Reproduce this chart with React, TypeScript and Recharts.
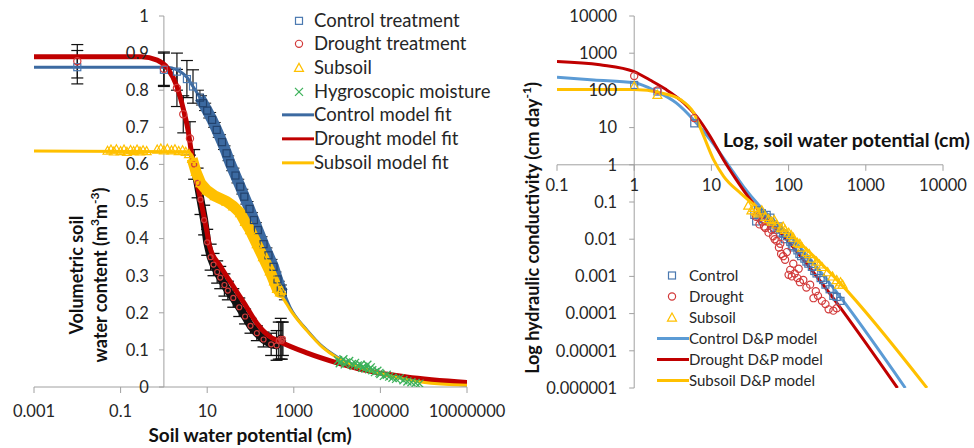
import React from 'react';
import { ComposedChart, Line, Scatter, XAxis, YAxis, ReferenceLine, ReferenceDot, ErrorBar } from 'recharts';

const FONT = 'Lato, "Open Sans", "DejaVu Sans", sans-serif';

// ---------- LEFT PANEL DATA (water retention) ----------
const LEFT_X_TICKS = [0.001, 0.1, 10, 1000, 100000, 10000000];
const LEFT_X_LABELS = ['0.001', '0.1', '10', '1000', '100000', '10000000'];
const LEFT_Y_TICKS = [0, 0.1, 0.2, 0.3, 0.4, 0.5, 0.6, 0.7, 0.8, 0.9, 1];
const LEFT_Y_LABELS = ['0', '0.1', '0.2', '0.3', '0.4', '0.5', '0.6', '0.7', '0.8', '0.9', '1'];

const CONTROL_PTS = [[0.01, 0.862, 0.045], [1, 0.855, 0.045], [2, 0.85, 0.05], [3.4, 0.83, 0.05], [4.7, 0.81, 0.045]];
const CONTROL_BAND = [[6.8, 0.78, 0.02], [8, 0.765, 0.02], [10, 0.745, 0.02], [13, 0.72, 0.02], [16.6, 0.693, 0.02], [22, 0.66, 0.02], [28, 0.63, 0.02], [34, 0.603, 0.02], [45, 0.57, 0.02], [58, 0.54, 0.02], [72, 0.513, 0.02], [95, 0.48, 0.02], [120, 0.45, 0.02], [148, 0.423, 0.02], [200, 0.385, 0.02], [260, 0.355, 0.02], [340, 0.324, 0.02], [420, 0.29, 0.02], [500, 0.265, 0.02], [560, 0.255, 0.02]];
const DROUGHT_PTS = [[0.01, 0.878, 0.045], [1, 0.858, 0.045], [2, 0.806, 0.05], [2.8, 0.735, 0.05], [4, 0.67, 0.045]];
const DROUGHT_BAND = [[5, 0.6, 0.04], [6, 0.55, 0.04], [7, 0.505, 0.04], [8.5, 0.45, 0.04], [10, 0.39, 0.035], [12, 0.35, 0.035], [14, 0.33, 0.03], [17, 0.31, 0.03], [20, 0.295, 0.03], [25, 0.275, 0.03], [30, 0.26, 0.025], [40, 0.24, 0.025], [55, 0.215, 0.025], [75, 0.19, 0.02], [100, 0.165, 0.02], [140, 0.145, 0.02], [200, 0.128, 0.02], [300, 0.115, 0.03], [400, 0.112, 0.04], [450, 0.125, 0.05], [500, 0.13, 0.055], [530, 0.125, 0.05], [560, 0.13, 0.045]];
const SUBSOIL_PTS = [[0.05, 0.637], [0.06, 0.64], [0.07, 0.635], [0.08, 0.641], [0.1, 0.636], [0.12, 0.64], [0.14, 0.634], [0.17, 0.639], [0.2, 0.636], [0.24, 0.64], [0.28, 0.635], [0.33, 0.638], [0.4, 0.636], [0.7, 0.64], [0.85, 0.643], [1, 0.638], [1.2, 0.642], [1.5, 0.638], [1.8, 0.641], [2.2, 0.636], [2.7, 0.638], [3.2, 0.634], [3.8, 0.628]];
const SUBSOIL_BAND = [[4.5, 0.615], [5.5, 0.58], [7, 0.55], [9.8, 0.53], [15, 0.515], [28, 0.5], [40, 0.487], [58, 0.469], [75, 0.445], [98, 0.423], [140, 0.385], [195, 0.35], [280, 0.312], [350, 0.285], [410, 0.265], [480, 0.255], [520, 0.26]];
const HYGRO_PTS = [[10500, 0.072], [11500, 0.064], [12000, 0.068], [14000, 0.075], [15000, 0.061], [16000, 0.066], [19000, 0.07], [22000, 0.062], [24000, 0.057], [26000, 0.065], [30000, 0.058], [35000, 0.06], [38000, 0.052], [40000, 0.055], [45000, 0.05], [50000, 0.06], [55000, 0.048], [60000, 0.053], [65000, 0.045], [75000, 0.04], [85000, 0.044], [95000, 0.038], [100000, 0.035], [120000, 0.03], [140000, 0.033], [160000, 0.028], [190000, 0.025], [230000, 0.022], [280000, 0.024], [340000, 0.018], [420000, 0.015], [520000, 0.013], [650000, 0.011], [800000, 0.009]];

const CONTROL_FIT = [[0.001, 0.862], [1.2, 0.862], [2, 0.855], [3.4, 0.835], [4.7, 0.81], [6.8, 0.78], [10, 0.745], [16.6, 0.693], [34, 0.603], [72, 0.513], [148, 0.423], [340, 0.324], [560, 0.26], [810, 0.216], [2000, 0.154], [4700, 0.108], [10000, 0.081], [40000, 0.051], [166000, 0.032], [955000, 0.016], [10000000, 0.005]];
const DROUGHT_FIT = [[0.001, 0.89], [0.3, 0.89], [0.7, 0.881], [1.2, 0.86], [2, 0.81], [2.8, 0.75], [3.6, 0.693], [4.7, 0.603], [6.8, 0.513], [9.7, 0.423], [11.6, 0.375], [20, 0.326], [40, 0.271], [80, 0.217], [140, 0.172], [250, 0.14], [480, 0.122], [2000, 0.092], [10000, 0.065], [40000, 0.046], [400000, 0.027], [10000000, 0.012]];
const SUBSOIL_FIT = [[0.001, 0.636], [3.5, 0.634], [4.5, 0.62], [5.8, 0.57], [9.8, 0.531], [28, 0.5], [58, 0.469], [98, 0.423], [195, 0.35], [280, 0.312], [410, 0.262], [600, 0.235], [810, 0.21], [2000, 0.152], [4700, 0.106], [10000, 0.079], [40000, 0.05], [166000, 0.03], [955000, 0.013], [10000000, 0.005]];

// ---------- RIGHT PANEL DATA (hydraulic conductivity) ----------
const RIGHT_X_TICKS = [0.1, 1, 10, 100, 1000, 10000];
const RIGHT_X_LABELS = ['0.1', '1', '10', '100', '1000', '10000'];
const RIGHT_Y_TICKS = [10000, 1000, 100, 10, 1, 0.1, 0.01, 0.001, 0.0001, 0.00001, 0.000001];
const RIGHT_Y_LABELS = ['10000', '1000', '100', '10', '1', '0.1', '0.01', '0.001', '0.0001', '0.00001', '0.000001'];

const K_CONTROL_PTS = [[1, 140], [2, 93], [6, 13], [36, 0.045], [38, 0.03], [40, 0.06], [42, 0.04], [45, 0.05], [48, 0.035], [52, 0.045], [55, 0.03], [58, 0.038], [60, 0.025], [65, 0.02], [70, 0.018], [74, 0.022], [78, 0.015], [85, 0.014], [90, 0.01], [95, 0.012], [105, 0.0085], [110, 0.0065], [115, 0.006], [130, 0.005], [138, 0.004], [145, 0.0035], [160, 0.003], [170, 0.0025], [180, 0.0022], [200, 0.0018], [215, 0.0014], [230, 0.0012], [260, 0.0009], [280, 0.0008], [300, 0.0006], [340, 0.00045], [380, 0.0003], [420, 0.00028], [470, 0.00022]];
const K_DROUGHT_PTS = [[1, 245], [2, 100], [6, 18], [38, 0.04], [42, 0.025], [45, 0.03], [48, 0.022], [50, 0.02], [55, 0.015], [60, 0.018], [63, 0.012], [66, 0.01], [70, 0.009], [75, 0.006], [78, 0.0075], [80, 0.004], [85, 0.0035], [90, 0.0028], [95, 0.0045], [100, 0.0011], [105, 0.0015], [110, 0.001], [115, 0.0022], [120, 0.0012], [130, 0.0009], [135, 0.0016], [140, 0.0007], [155, 0.0008], [170, 0.0005], [190, 0.0006], [210, 0.00026], [225, 0.0004], [240, 0.0003], [270, 0.00022], [300, 0.00018], [330, 0.00013], [380, 0.00012], [420, 0.00014]];
const K_SUBSOIL_PTS = [[1, 130], [2, 76], [30, 0.08], [33, 0.06], [36, 0.07], [38, 0.055], [40, 0.05], [45, 0.06], [50, 0.04], [55, 0.035], [60, 0.03], [65, 0.033], [70, 0.025], [80, 0.02], [85, 0.022], [90, 0.018], [100, 0.015], [108, 0.013], [115, 0.011], [130, 0.008], [140, 0.0075], [150, 0.006], [170, 0.0045], [185, 0.004], [200, 0.003], [230, 0.0025], [250, 0.0021], [270, 0.0018], [320, 0.0013], [370, 0.001], [420, 0.0008], [450, 0.0006], [470, 0.0007], [500, 0.0006]];

const K_CONTROL_FIT = [[0.1, 225], [0.3, 190], [1, 160], [1.95, 93], [3.5, 46], [5.9, 16], [9.7, 4.7], [16, 1.1], [26, 0.26], [43, 0.074], [95, 0.0146], [3250, 0.000001]];
const K_DROUGHT_FIT = [[0.1, 600], [0.36, 490], [1, 320], [1.6, 190], [2.6, 105], [4.4, 46], [6.5, 19.5], [9.7, 5.7], [14.4, 1.35], [21, 0.4], [32, 0.115], [95, 0.0096], [2570, 0.000001]];
const K_SUBSOIL_FIT = [[0.1, 105], [1, 105], [2.2, 86], [4, 56], [5.9, 25], [8, 5.7], [10.7, 1.35], [14.4, 0.49], [24, 0.17], [43, 0.061], [140, 0.0079], [465, 0.00066], [6200, 0.000001]];

const LEFT_LEGEND = ['Control treatment', 'Drought treatment', 'Subsoil', 'Hygroscopic moisture', 'Control model fit', 'Drought model fit', 'Subsoil model fit'];
const RIGHT_LEGEND = ['Control', 'Drought', 'Subsoil', 'Control D&P model', 'Drought D&P model', 'Subsoil D&P model'];

// ---------- styles ----------
const AXIS = '#a0a0a0';
const TEXT = '#262626';
const C_BLUE = '#3c6aa1';
const C_BLUE_MK = '#4a78b0';
const C_LIGHT = '#5b9bd5';
const RED = '#c00000';
const RED_MK = '#d23a3a';
const YEL = '#ffc000';
const GREEN = '#3cb15a';

const toPts = (arr: number[][]) => arr.map((p) => ({ x: p[0], y: p[1], err: p[2] }));

const mkSquare = (color: string, s = 7) => (props: any) => {
  const { cx, cy } = props;
  if (cx == null || cy == null) return <g key={props.key} />;
  return <rect key={props.key} x={cx - s / 2} y={cy - s / 2} width={s} height={s} fill="none" stroke={color} strokeWidth={1.2} />;
};
const mkCircle = (color: string, r = 3.6) => (props: any) => {
  const { cx, cy } = props;
  if (cx == null || cy == null) return <g key={props.key} />;
  return <circle key={props.key} cx={cx} cy={cy} r={r} fill="none" stroke={color} strokeWidth={1.2} />;
};
const mkTriangle = (color: string, s = 4.5) => (props: any) => {
  const { cx, cy } = props;
  if (cx == null || cy == null) return <g key={props.key} />;
  return <path key={props.key} d={`M${cx},${cy - s}L${cx + s},${cy + s * 0.8}L${cx - s},${cy + s * 0.8}Z`} fill="none" stroke={color} strokeWidth={1.2} />;
};
const mkX = (color: string, s = 4) => (props: any) => {
  const { cx, cy } = props;
  if (cx == null || cy == null) return <g key={props.key} />;
  return (
    <g key={props.key} stroke={color} strokeWidth={1.3}>
      <line x1={cx - s} y1={cy - s} x2={cx + s} y2={cy + s} />
      <line x1={cx - s} y1={cy + s} x2={cx + s} y2={cy - s} />
    </g>
  );
};

const tickLabelStyle = { fill: TEXT, fontSize: 16.5, fontFamily: FONT };

function LeftChart() {
  return (
    <ComposedChart width={520} height={448} margin={{ top: 16, right: 53, bottom: 0, left: 34 }}>
      <XAxis
        dataKey="x"
        type="number"
        scale="log"
        domain={[0.001, 10000000]}
        allowDataOverflow
        ticks={LEFT_X_TICKS}
        tickFormatter={(v: number) => LEFT_X_LABELS[LEFT_X_TICKS.indexOf(v)] ?? String(v)}
        height={61}
        stroke={AXIS}
        tickSize={6}
        tickMargin={12}
        tick={tickLabelStyle}
        interval={0}
      />
      <YAxis dataKey="y" type="number" domain={[0, 1]} hide allowDataOverflow />
      <ReferenceLine x={1} stroke={AXIS} strokeWidth={1} />
      {LEFT_Y_TICKS.map((v) => (
        <ReferenceLine key={'lt' + v} segment={[{ x: 0.77, y: v }, { x: 1, y: v }]} stroke={AXIS} />
      ))}
      {LEFT_Y_TICKS.map((v, i) => (
        <ReferenceDot key={'ll' + v} x={1} y={v} r={0} fill="none" stroke="none"
          label={{ value: LEFT_Y_LABELS[i], position: 'left', offset: 15, fill: TEXT, fontSize: 16.5, fontFamily: FONT }} />
      ))}
      <Scatter data={toPts(HYGRO_PTS)} dataKey="y" shape={mkX(GREEN)} isAnimationActive={false} />
      <Scatter data={toPts(SUBSOIL_PTS)} dataKey="y" shape={mkTriangle(YEL)} isAnimationActive={false} />
      <Scatter data={toPts(CONTROL_PTS)} dataKey="y" shape={mkSquare(C_BLUE_MK)} isAnimationActive={false}>
        <ErrorBar dataKey="err" direction="y" width={6} stroke="#111" strokeWidth={1.2} />
      </Scatter>
      <Scatter data={toPts(DROUGHT_PTS)} dataKey="y" shape={mkCircle(RED_MK)} isAnimationActive={false}>
        <ErrorBar dataKey="err" direction="y" width={6} stroke="#111" strokeWidth={1.2} />
      </Scatter>
      {/* dense measured bands and model fits */}
      <Line data={toPts(CONTROL_BAND)} dataKey="y" type="linear" stroke={C_BLUE} strokeWidth={11} strokeLinejoin="round" dot={mkSquare('#23436e')} isAnimationActive={false}>
        <ErrorBar dataKey="err" direction="y" width={4} stroke="#111" strokeWidth={1} />
      </Line>
      <Line data={toPts(CONTROL_FIT)} dataKey="y" type="monotone" stroke={C_BLUE} strokeWidth={3} dot={false} isAnimationActive={false} />
      <Line data={toPts(DROUGHT_BAND)} dataKey="y" type="linear" stroke="#111" strokeWidth={8} strokeLinejoin="round" dot={mkCircle(RED_MK, 2.5)} isAnimationActive={false}>
        <ErrorBar dataKey="err" direction="y" width={6} stroke="#111" strokeWidth={1.3} />
      </Line>
      <Line data={toPts(DROUGHT_FIT)} dataKey="y" type="monotone" stroke={RED} strokeWidth={5} dot={false} isAnimationActive={false} />
      <Line data={toPts(SUBSOIL_BAND)} dataKey="y" type="linear" stroke={YEL} strokeWidth={11} strokeLinejoin="round" dot={mkTriangle(YEL)} isAnimationActive={false} />
      <Line data={toPts(SUBSOIL_FIT)} dataKey="y" type="monotone" stroke={YEL} strokeWidth={3} dot={false} isAnimationActive={false} />
    </ComposedChart>
  );
}

function RightChart() {
  const hTick = Math.pow(10, -6 / 37.2);
  const vTick = Math.pow(10, -5 / 77.2);
  return (
    <ComposedChart width={474} height={448} margin={{ top: 16, right: 31, bottom: 60, left: 57 }}>
      <XAxis dataKey="x" type="number" scale="log" domain={[0.1, 10000]} hide allowDataOverflow />
      <YAxis dataKey="y" type="number" scale="log" domain={[0.000001, 10000]} hide allowDataOverflow />
      <ReferenceLine y={1} stroke={AXIS} />
      <ReferenceLine x={1} stroke={AXIS} />
      {RIGHT_X_TICKS.map((v) => (
        <ReferenceLine key={'rxt' + v} segment={[{ x: v, y: 1 }, { x: v, y: hTick }]} stroke={AXIS} />
      ))}
      {RIGHT_Y_TICKS.map((v) => (
        <ReferenceLine key={'ryt' + v} segment={[{ x: vTick, y: v }, { x: 1, y: v }]} stroke={AXIS} />
      ))}
      {RIGHT_X_TICKS.map((v, i) => (
        <ReferenceDot key={'rxl' + v} x={v} y={1} r={0} fill="none" stroke="none"
          label={{ value: RIGHT_X_LABELS[i], position: 'bottom', offset: 14, fill: TEXT, fontSize: 16.5, fontFamily: FONT }} />
      ))}
      {RIGHT_Y_TICKS.map((v, i) => (
        <ReferenceDot key={'ryl' + v} x={1} y={v} r={0} fill="none" stroke="none"
          label={{ value: RIGHT_Y_LABELS[i], position: 'left', offset: 17, fill: TEXT, fontSize: 16.5, fontFamily: FONT }} />
      ))}
      <Scatter data={toPts(K_CONTROL_PTS)} dataKey="y" shape={mkSquare(C_BLUE_MK)} isAnimationActive={false} />
      <Scatter data={toPts(K_DROUGHT_PTS)} dataKey="y" shape={mkCircle(RED_MK)} isAnimationActive={false} />
      <Scatter data={toPts(K_SUBSOIL_PTS)} dataKey="y" shape={mkTriangle(YEL)} isAnimationActive={false} />
      <Line data={toPts(K_CONTROL_FIT)} dataKey="y" type="monotone" stroke={C_LIGHT} strokeWidth={3} dot={false} isAnimationActive={false} />
      <Line data={toPts(K_DROUGHT_FIT)} dataKey="y" type="monotone" stroke={RED} strokeWidth={3} dot={false} isAnimationActive={false} />
      <Line data={toPts(K_SUBSOIL_FIT)} dataKey="y" type="monotone" stroke={YEL} strokeWidth={3} dot={false} isAnimationActive={false} />
    </ComposedChart>
  );
}

function LegendBox({ items, markers, left, top, gap, textLeft, fontSize }: any) {
  return (
    <div style={{ position: 'absolute', left, top, fontFamily: FONT, fontSize, color: TEXT }}>
      {items.map((name: string, i: number) => (
        <div key={name} style={{ position: 'absolute', top: i * gap, left: 0, height: gap, whiteSpace: 'nowrap', display: 'flex', alignItems: 'center' }}>
          <svg width={textLeft} height={gap} style={{ display: 'block' }}>{markers[i](gap / 2)}</svg>
          <span style={{ lineHeight: `${gap}px` }}>{name}</span>
        </div>
      ))}
    </div>
  );
}

const lineMk = (color: string, x1: number, x2: number) => (cy: number) => <line x1={x1} x2={x2} y1={cy} y2={cy} stroke={color} strokeWidth={3} />;

export default function App() {
  const leftMarkers = [
    (cy: number) => mkSquare(C_BLUE_MK)({ cx: 17, cy }),
    (cy: number) => mkCircle(RED_MK)({ cx: 17, cy }),
    (cy: number) => mkTriangle(YEL)({ cx: 17, cy }),
    (cy: number) => mkX(GREEN)({ cx: 17, cy }),
    lineMk(C_BLUE, 0, 32),
    lineMk(RED, 0, 32),
    lineMk(YEL, 0, 32),
  ];
  const rightMarkers = [
    (cy: number) => mkSquare(C_BLUE_MK)({ cx: 15, cy }),
    (cy: number) => mkCircle(RED_MK)({ cx: 15, cy }),
    (cy: number) => mkTriangle(YEL)({ cx: 15, cy }),
    lineMk(C_LIGHT, 0, 32),
    lineMk(RED, 0, 32),
    lineMk(YEL, 0, 32),
  ];
  return (
    <div style={{ position: 'absolute', left: 0, top: 0, width: 974, height: 448, background: '#fff', overflow: 'hidden' }}>
      <div style={{ position: 'absolute', left: 0, top: 0 }}>
        <LeftChart />
      </div>
      <div style={{ position: 'absolute', left: 500, top: 0 }}>
        <RightChart />
      </div>
      <LegendBox items={LEFT_LEGEND} markers={leftMarkers} left={282} top={8.5} gap={23.7} textLeft={32} fontSize={18.5} />
      <LegendBox items={RIGHT_LEGEND} markers={rightMarkers} left={657} top={264.5} gap={21} textLeft={32} fontSize={15} />
      <svg width={974} height={448} style={{ position: 'absolute', left: 0, top: 0, pointerEvents: 'none' }} fontFamily={FONT}>
        <text x={76} y={275} transform="rotate(-90 76 275)" textAnchor="middle" dominantBaseline="central" fontSize={18} fontWeight={700} fill="#111">Volumetric soil</text>
        <text x={100} y={275} transform="rotate(-90 100 275)" textAnchor="middle" dominantBaseline="central" fontSize={18} fontWeight={700} fill="#111">
          water content (m<tspan dy={-6} fontSize={12}>3</tspan><tspan dy={6}>m</tspan><tspan dy={-6} fontSize={12}>-3</tspan><tspan dy={6}>)</tspan>
        </text>
        <text x={250} y={442} textAnchor="middle" fontSize={19} fontWeight={700} fill="#111">Soil water potential (cm)</text>
        <text x={532} y={228} transform="rotate(-90 532 228)" textAnchor="middle" dominantBaseline="central" fontSize={18} fontWeight={700} fill="#111">
          Log hydraulic conductivity (cm day<tspan dy={-6} fontSize={12}>-1</tspan><tspan dy={6}>)</tspan>
        </text>
        <text x={723} y={147} textAnchor="start" fontSize={19.5} fontWeight={700} fill="#111">Log, soil water potential (cm)</text>
      </svg>
    </div>
  );
}
